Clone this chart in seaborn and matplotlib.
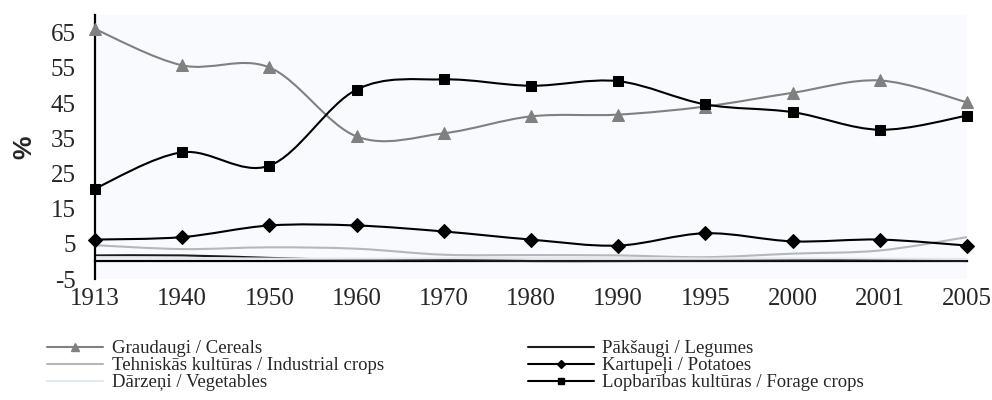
import numpy as np
import pandas as pd
import seaborn as sns
import matplotlib
matplotlib.use('Agg')
import matplotlib.pyplot as plt
from matplotlib.path import Path
from matplotlib.patches import PathPatch
from matplotlib.lines import Line2D

years = ['1913', '1940', '1950', '1960', '1970', '1980', '1990', '1995', '2000', '2001', '2005']
cereals = [66.0, 55.7, 55.1, 35.5, 36.4, 41.2, 41.7, 44.0, 47.9, 51.4, 45.2]
legumes = [1.7, 1.7, 1.0, 0.4, 0.4, 0.1, 0.1, 0.2, 0.3, 0.4, 0.1]
industrial = [4.6, 3.5, 4.0, 3.6, 1.9, 1.8, 1.7, 1.2, 2.2, 3.1, 6.9]
potatoes = [6.2, 6.9, 10.2, 10.2, 8.5, 6.2, 4.5, 8.0, 5.7, 6.2, 4.5]
vegetables = [1.2, 1.0, 0.8, 0.8, 0.9, 1.0, 1.0, 0.8, 0.9, 0.8, 0.7]
forage = [20.7, 31.0, 27.2, 48.8, 51.7, 49.9, 51.2, 44.6, 42.4, 37.4, 41.4]

labels = ['Graudaugi / Cereals', 'Pākšaugi / Legumes', 'Tehniskās kultūras / Industrial crops',
          'Kartupeļi / Potatoes', 'Dārzeņi / Vegetables', 'Lopbarības kultūras / Forage crops']
series = [cereals, legumes, industrial, potatoes, vegetables, forage]
colors = ['#808080', '#1c1c1c', '#b4b8bc', '#000000', '#e4e8f2', '#000000']
markers = ['^', None, None, 'D', None, 's']
msizes = [9, 0, 0, 7, 0, 7]


def smooth_path(xs, ys):
    # excel style smoothed line, cubic bezier through every point
    n = len(xs)
    verts = [(xs[0], ys[0])]
    codes = [Path.MOVETO]
    for i in range(n - 1):
        a = max(i - 1, 0)
        b = min(i + 2, n - 1)
        c1 = (xs[i] + (xs[i + 1] - xs[a]) / 6, ys[i] + (ys[i + 1] - ys[a]) / 6)
        c2 = (xs[i + 1] - (xs[b] - xs[i]) / 6, ys[i + 1] - (ys[b] - ys[i]) / 6)
        verts += [c1, c2, (xs[i + 1], ys[i + 1])]
        codes += [Path.CURVE4] * 3
    return Path(verts, codes)


sns.set_style('white')
plt.rcParams['font.family'] = ['Liberation Serif', 'DejaVu Serif']
plt.rcParams['axes.unicode_minus'] = False

fig = plt.figure(figsize=(9.92, 4.0), dpi=100)
ax = fig.add_axes([95 / 992, 1 - 279 / 400, 872 / 992, 264 / 400])
ax.set_facecolor('#f8fafd')

pos = np.arange(len(years))
handles = []
for vals, c, m, ms, lab in zip(series, colors, markers, msizes, labels):
    ax.add_patch(PathPatch(smooth_path(pos, vals), facecolor='none', edgecolor=c,
                           lw=1.5, zorder=2, clip_on=False))
    if m is not None:
        sns.lineplot(x=pos, y=vals, ax=ax, color=c, lw=0, marker=m, markersize=ms,
                     markeredgecolor=c, legend=False, zorder=3)
        ax.lines[-1].set_clip_on(False)
    handles.append(Line2D([], [], color=c, lw=1.5, marker=m, markersize=ms * 0.6,
                          markeredgecolor=c, label=lab))

ax.set_xlim(0, 10)
ax.set_ylim(-5, 70)
ax.set_yticks(range(-5, 70, 10))
ax.set_xticks(pos, years)

for s in ['top', 'right']:
    ax.spines[s].set_visible(False)
ax.spines['bottom'].set_position(('data', 0))
for s in ['bottom', 'left']:
    ax.spines[s].set_linewidth(1.6)
    ax.spines[s].set_color('black')
ax.spines['bottom'].set_zorder(1)

ax.tick_params(axis='x', direction='out', length=6, width=1.6, pad=13, labelsize=18)
ax.tick_params(axis='y', direction='out', length=6, width=1.6, pad=8, labelsize=18)
ax.set_ylabel('%', fontsize=19, fontweight='bold', family='Liberation Sans', labelpad=10)

leg_kw = dict(loc='upper left', frameon=False, fontsize=13.5,
              handletextpad=0.45, labelspacing=0.0, borderpad=0, borderaxespad=0)
fig.legend([handles[i] for i in [0, 2, 4]], [labels[i] for i in [0, 2, 4]],
           bbox_to_anchor=(47 / 992, 1 - 340 / 400), handlelength=3.0, **leg_kw)
fig.legend([handles[i] for i in [1, 3, 5]], [labels[i] for i in [1, 3, 5]],
           bbox_to_anchor=(528 / 992, 1 - 340 / 400), handlelength=3.5, **leg_kw)

fig.savefig('out.png', dpi=100)
